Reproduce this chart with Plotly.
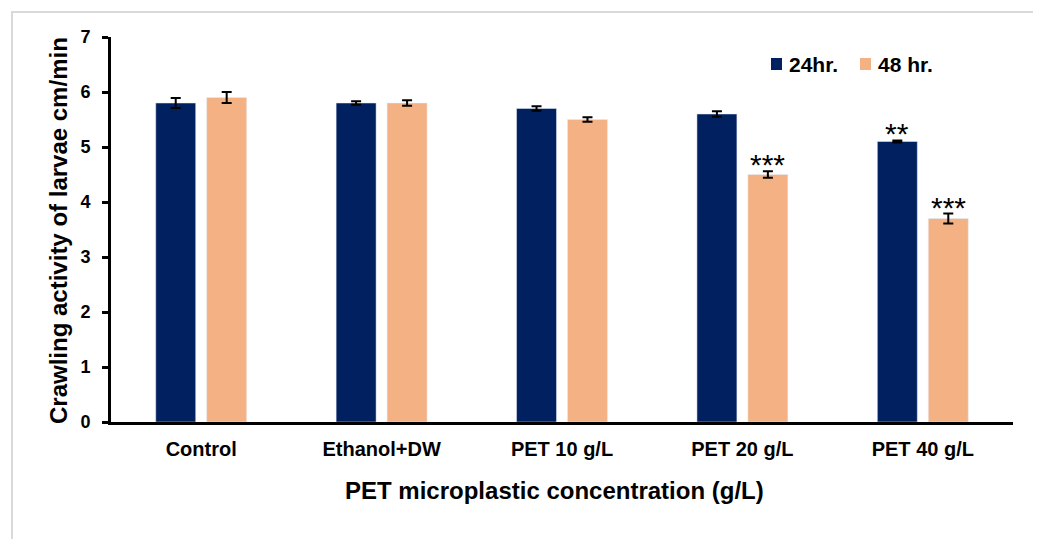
import plotly.graph_objects as go

categories = ["Control", "Ethanol+DW", "PET 10 g/L", "PET 20 g/L", "PET 40 g/L"]
series_names = ["24hr.", "48 hr."]
vals_24 = [5.8, 5.8, 5.7, 5.6, 5.1]
err_24 = [0.09, 0.03, 0.04, 0.05, 0.02]
vals_48 = [5.9, 5.8, 5.5, 4.5, 3.7]
err_48 = [0.1, 0.05, 0.04, 0.06, 0.09]
sig_24 = ["", "", "", "", "**"]
sig_48 = ["", "", "", "***", "***"]

NAVY = "#002060"
PEACH = "#F4B183"
FONT = "Liberation Sans, Arial, sans-serif"

# page body has an 8px margin; layout pixel targets are shifted accordingly
OFF = 8
L, R, T, B = 111 - OFF, 1013 - OFF, 37 - OFF, 422 - OFF
W, H = R - L, B - T
def px(x):
    return (x - OFF - L) / W
def py(y):
    return (B - (y - OFF)) / H

fig = go.Figure()
fig.add_trace(go.Bar(
    name=series_names[0], x=categories, y=vals_24, marker_color=NAVY, showlegend=False,
    error_y=dict(type="data", array=err_24, color="black", thickness=2, width=5),
))
fig.add_trace(go.Bar(
    name=series_names[1], x=categories, y=vals_48, marker_color=PEACH, showlegend=False,
    error_y=dict(type="data", array=err_48, color="black", thickness=2, width=5),
))

# significance stars
for i, c in enumerate(categories):
    if sig_24[i]:
        fig.add_annotation(x=c, y=vals_24[i] + err_24[i], text=sig_24[i], showarrow=False,
                           xshift=-25.5, yanchor="bottom", yshift=-12,
                           font=dict(family=FONT, size=30, color="black"))
    if sig_48[i]:
        fig.add_annotation(x=c, y=vals_48[i] + err_48[i], text=sig_48[i], showarrow=False,
                           xshift=25.5, yanchor="bottom", yshift=-12,
                           font=dict(family=FONT, size=30, color="black"))

# manual legend
leg = [(771, 787, NAVY, series_names[0]), (860, 876, PEACH, series_names[1])]
for sx, tx, col, name in leg:
    fig.add_shape(type="rect", xref="paper", yref="paper",
                  x0=px(sx), x1=px(sx + 11), y0=py(70), y1=py(58),
                  fillcolor=col, line=dict(width=0))
    fig.add_annotation(xref="paper", yref="paper", x=px(tx), y=py(64),
                       xanchor="left", yanchor="middle", showarrow=False,
                       text="<b>%s</b>" % name,
                       font=dict(family=FONT, size=21, color="black"))

# axis titles
fig.add_annotation(xref="paper", yref="paper", x=px(554), y=py(490),
                   xanchor="center", yanchor="middle", showarrow=False,
                   text="<b>PET microplastic concentration (g/L)</b>",
                   font=dict(family=FONT, size=24, color="black"))
fig.add_annotation(xref="paper", yref="paper", x=px(59), y=py(231),
                   xanchor="center", yanchor="middle", showarrow=False, textangle=-90,
                   text="<b>Crawling activity of larvae cm/min</b>",
                   font=dict(family=FONT, size=24, color="black"))

# outer light border
fig.add_shape(type="rect", xref="paper", yref="paper",
              x0=px(12), x1=px(1036), y0=py(580), y1=py(12),
              line=dict(color="#d9d9d9", width=2), layer="below")

fig.update_layout(
    width=1041, height=539,
    margin=dict(l=L, r=1041 - R, t=T, b=539 - B, autoexpand=False),
    paper_bgcolor="white", plot_bgcolor="white",
    barmode="group", bargap=0.435, bargroupgap=0.216,
    font=dict(family=FONT, color="black"),
    showlegend=False,
    xaxis=dict(
        showline=True, linecolor="black", linewidth=3, ticks="",
        tickfont=dict(family=FONT, size=20, weight="bold"),
        ticklabelstandoff=7, automargin=False,
        showgrid=False,
    ),
    yaxis=dict(
        range=[0, 7], dtick=1, showline=True, linecolor="black", linewidth=3,
        ticks="outside", ticklen=6, tickwidth=3, tickcolor="black",
        tickfont=dict(family=FONT, size=18, weight="bold"),
        ticklabelstandoff=8, automargin=False,
        showgrid=False, zeroline=False,
    ),
)

fig.write_html("out.html")
